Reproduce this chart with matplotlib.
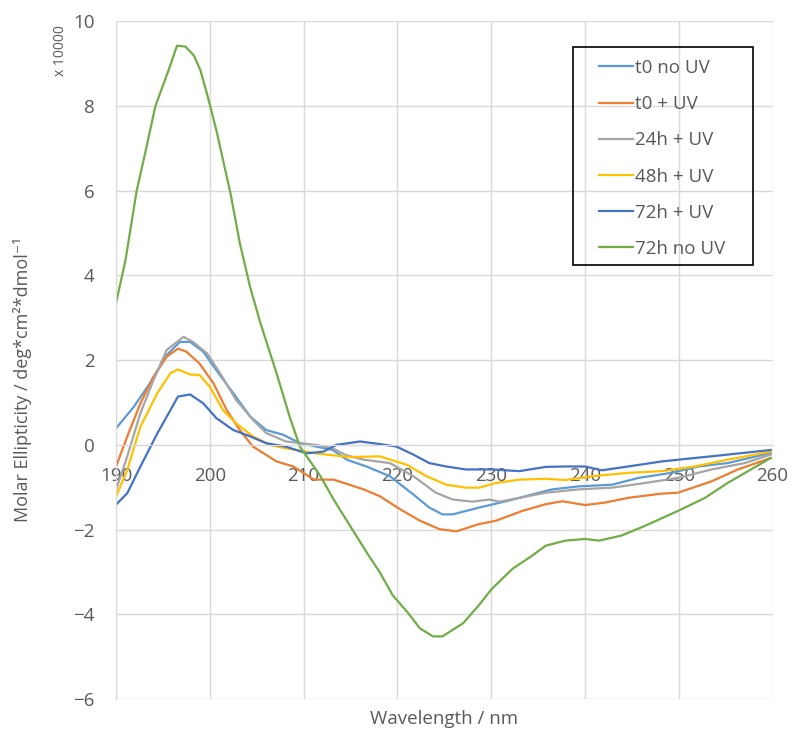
import matplotlib.pyplot as plt
from matplotlib.patches import Rectangle

plt.rcParams['font.family'] = ['Open Sans', 'DejaVu Sans']

# wavelength (nm) / molar ellipticity (x 10000)
wl_t0_no = [190, 191.9, 193.6, 195.4, 196.8, 197.9, 199.3, 200.7, 202.5, 204.3, 206.0, 207.8, 209.6,
            213.1, 214.6, 216.7, 219.2, 221.7, 223.4, 224.8, 225.9, 228.7, 231.6, 234.4, 236.5,
            239.3, 242.9, 245.7, 249.2, 252.1, 255.2, 259.8]
t0_no = [0.39, 0.90, 1.45, 2.12, 2.43, 2.43, 2.20, 1.76, 1.22, 0.67, 0.35, 0.24, 0.04,
         -0.12, -0.35, -0.51, -0.74, -1.17, -1.48, -1.64, -1.64, -1.48, -1.33, -1.17, -1.05,
         -0.98, -0.94, -0.78, -0.66, -0.51, -0.43, -0.19]

wl_t0_uv = [190, 191.2, 192.6, 194.0, 195.4, 196.6, 197.5, 198.9, 200.4, 201.8, 203.2, 204.6, 207.1,
            208.9, 211.1, 213.2, 216.4, 218.1, 220.3, 222.4, 224.5, 226.3, 228.7, 230.5, 233.3,
            235.8, 237.6, 240.0, 242.2, 244.6, 248.2, 249.9, 253.5, 256.3, 259.8]
t0_uv = [-0.51, 0.20, 0.98, 1.61, 2.08, 2.27, 2.20, 1.92, 1.45, 0.82, 0.35, -0.04, -0.39,
         -0.51, -0.82, -0.82, -1.05, -1.21, -1.52, -1.79, -1.99, -2.04, -1.87, -1.79, -1.56,
         -1.40, -1.33, -1.42, -1.36, -1.25, -1.15, -1.13, -0.86, -0.58, -0.31]

wl_24h = [190, 191.2, 192.6, 194.0, 195.4, 197.2, 198.2, 199.7, 201.1, 202.8, 204.6, 206.0, 208.1,
          211.3, 213.1, 214.5, 216.4, 219.2, 221.7, 224.1, 225.9, 228.0, 229.8, 230.9, 233.0,
          235.8, 239.3, 242.9, 246.4, 249.9, 253.5, 257.0, 259.8]
h24_uv = [-1.06, -0.27, 0.75, 1.53, 2.24, 2.55, 2.43, 2.16, 1.69, 1.06, 0.59, 0.28, 0.08,
          0.0, -0.08, -0.24, -0.35, -0.43, -0.74, -1.13, -1.29, -1.34, -1.29, -1.34, -1.25,
          -1.13, -1.05, -1.01, -0.90, -0.78, -0.58, -0.43, -0.23]

wl_48h = [190, 191.2, 192.6, 194.4, 195.8, 196.6, 197.9, 198.9, 200.0, 201.4, 202.8, 204.6, 206.4,
          208.1, 211.3, 214.9, 218.1, 221.0, 223.1, 225.2, 227.3, 228.7, 230.5, 233.0, 235.8,
          237.9, 240.8, 244.6, 248.2, 251.7, 255.2, 259.8]
h48_uv = [-1.22, -0.59, 0.43, 1.22, 1.69, 1.78, 1.66, 1.65, 1.37, 0.82, 0.51, 0.20, 0.0,
          -0.08, -0.20, -0.29, -0.27, -0.47, -0.74, -0.94, -1.01, -1.01, -0.90, -0.82, -0.80,
          -0.83, -0.74, -0.66, -0.62, -0.51, -0.35, -0.16]

wl_72h = [190, 191.2, 192.6, 194.4, 195.8, 196.6, 197.9, 199.3, 200.7, 202.5, 204.3, 206.0, 208.1,
          210.3, 212.1, 213.5, 216.0, 218.1, 219.9, 221.7, 223.4, 225.2, 227.3, 230.1, 233.0,
          235.8, 237.9, 240.0, 241.8, 244.6, 248.2, 251.7, 255.2, 259.8]
h72_uv = [-1.41, -1.14, -0.51, 0.27, 0.82, 1.14, 1.19, 0.98, 0.63, 0.35, 0.20, 0.04, -0.04,
          -0.20, -0.16, 0.0, 0.08, 0.02, -0.04, -0.23, -0.43, -0.51, -0.58, -0.58, -0.62,
          -0.52, -0.51, -0.51, -0.60, -0.51, -0.39, -0.31, -0.23, -0.12]

wl_72h_no = [190, 191.0, 192.2, 193.1, 194.2, 195.6, 196.5, 197.4, 198.3, 199.0, 199.8, 200.7,
             202.2, 203.2, 204.3, 205.4, 207.1, 208.5, 209.6, 211.8, 213.2, 214.95, 216.7, 218.1,
             219.5, 221.0, 222.4, 223.8, 224.8, 227.0, 228.7, 230.1, 232.3, 234.4, 235.8, 237.9,
             240.0, 241.5, 243.9, 246.4, 249.9, 252.8, 255.2, 257.7, 259.8]
h72_no = [3.35, 4.35, 6.0, 6.88, 8.0, 8.84, 9.42, 9.40, 9.19, 8.84, 8.2, 7.42,
          5.94, 4.76, 3.72, 2.87, 1.70, 0.67, -0.04, -0.74, -1.29, -1.91, -2.53, -3.0,
          -3.55, -3.93, -4.33, -4.52, -4.52, -4.21, -3.78, -3.39, -2.92, -2.61, -2.38, -2.26,
          -2.22, -2.26, -2.14, -1.91, -1.56, -1.25, -0.90, -0.58, -0.31]

grey = '#595959'
fs = 13.5

fig = plt.figure(figsize=(7.91, 7.29), dpi=100)
ax = fig.add_axes([0.1467, 0.041, 0.83, 0.93])

ax.plot(wl_t0_no, t0_no, color='#5B9BD5', lw=1.6, label='t0 no UV')
ax.plot(wl_t0_uv, t0_uv, color='#ED7D31', lw=1.6, label='t0 + UV')
ax.plot(wl_24h, h24_uv, color='#A5A5A5', lw=1.6, label='24h + UV')
ax.plot(wl_48h, h48_uv, color='#FFC000', lw=1.6, label='48h + UV')
ax.plot(wl_72h, h72_uv, color='#4472C4', lw=1.6, label='72h + UV')
ax.plot(wl_72h_no, h72_no, color='#70AD47', lw=1.6, label='72h no UV')

ax.set_xlim(190, 260)
ax.set_ylim(-6, 10)
ax.set_xticks(range(190, 261, 10))
ax.set_yticks(range(-6, 11, 2))
ax.grid(True, color='#d9d9d9', lw=1)
ax.set_axisbelow(True)

for s in ['top', 'right']:
    ax.spines[s].set_visible(False)
ax.spines['left'].set_color('#d9d9d9')
ax.spines['bottom'].set_position(('data', 0))
ax.spines['bottom'].set_color('#d9d9d9')
ax.tick_params(length=0, labelsize=fs, colors=grey)
ax.tick_params(axis='x', pad=16)
ax.tick_params(axis='y', pad=15.5)

ax.set_xlabel('Wavelength / nm', fontsize=fs, color=grey)
ax.xaxis.set_label_coords(0.5, -0.016)
ax.set_ylabel('Molar Ellipticity / deg*cm²*dmol⁻¹', fontsize=13, color=grey)
ax.yaxis.set_label_coords(-0.128, 0.4705)
fig.text(0.076, 0.930, 'x 10000', rotation=90, fontsize=10, color=grey, ha='center', va='center')

# legend box drawn separately so the padding can match
fig.patches.append(Rectangle((573 / 791, 1 - 265 / 729), 180 / 791, 218 / 729,
                             transform=fig.transFigure, fill=False, edgecolor='black', lw=1.2))
leg = ax.legend(loc='upper left', bbox_to_anchor=(599 / 791, 1 - 59 / 729),
                bbox_transform=fig.transFigure, fontsize=fs, frameon=False,
                handlelength=1.83, handletextpad=0.1, labelspacing=0.97,
                borderpad=0, borderaxespad=0)
for t in leg.get_texts():
    t.set_color(grey)

fig.savefig('out.png', dpi=100)
